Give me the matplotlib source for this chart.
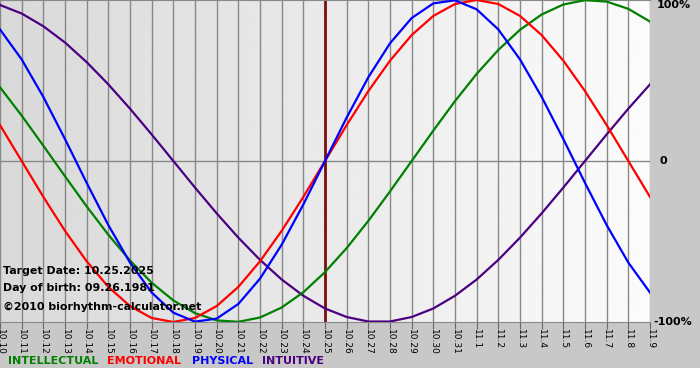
import numpy as np
import matplotlib
matplotlib.use('Agg')
import matplotlib.pyplot as plt
from matplotlib.patches import Rectangle

# Day labels 10.10 .. 11.9
dates = ['10.%d' % d for d in range(10, 32)] + ['11.%d' % d for d in range(1, 10)]

# Values (fraction of 100%)
intellectual = [0.458, 0.282, 0.095, -0.095, -0.282, -0.458, -0.618, -0.756, -0.866, -0.945,
                -0.990, -0.999, -0.972, -0.910, -0.815, -0.690, -0.541, -0.372, -0.189, 0.0,
                0.189, 0.372, 0.541, 0.690, 0.815, 0.910, 0.972, 0.999, 0.990, 0.945, 0.866]
emotional = [0.223, 0.0, -0.223, -0.434, -0.623, -0.782, -0.901, -0.975, -1.0, -0.975,
             -0.901, -0.782, -0.623, -0.434, -0.223, 0.0, 0.223, 0.434, 0.623, 0.782,
             0.901, 0.975, 1.0, 0.975, 0.901, 0.782, 0.623, 0.434, 0.223, 0.0, -0.223]
physical = [0.817, 0.631, 0.398, 0.136, -0.136, -0.398, -0.631, -0.817, -0.942, -0.998,
            -0.979, -0.888, -0.731, -0.520, -0.270, 0.0, 0.270, 0.520, 0.731, 0.888,
            0.979, 0.998, 0.942, 0.817, 0.631, 0.398, 0.136, -0.136, -0.398, -0.631, -0.817]
intuitive = [0.969, 0.916, 0.837, 0.736, 0.614, 0.476, 0.325, 0.165, 0.0, -0.165,
             -0.325, -0.476, -0.614, -0.736, -0.837, -0.916, -0.969, -0.997, -0.997, -0.969,
             -0.916, -0.837, -0.736, -0.614, -0.476, -0.325, -0.165, 0.0, 0.165, 0.325, 0.476]

target_idx = dates.index('10.25')
x = np.arange(len(dates))

fig = plt.figure(figsize=(7, 3.8), dpi=100)
fig.patch.set_facecolor('#c8c8c8')
fig.add_artist(Rectangle((0, 0), 1, 12 / 380, transform=fig.transFigure,
                         facecolor='white', edgecolor='none', zorder=0))

ax = fig.add_axes([0, 58 / 380, 650 / 700, 322 / 380])
ax.set_xlim(0, len(dates) - 1)
ax.set_ylim(-1.0, 1.0)

# background gradient, darker on the left
grad = np.linspace(0.85, 0.985, 256).reshape(1, -1)
ax.imshow(grad, extent=[0, len(dates) - 1, -1.0, 1.0], aspect='auto',
          cmap='gray', vmin=0, vmax=1, zorder=0)

for xi in x:
    ax.axvline(xi, color='#888888', lw=1, zorder=1)
ax.axhline(0, color='#888888', lw=1, zorder=1)
ax.axvline(target_idx, color='#7a1010', lw=2, zorder=2)

ax.plot(x, intuitive, color='#4b0082', lw=1.6, zorder=3)
ax.plot(x, intellectual, color='#008000', lw=1.6, zorder=3)
ax.plot(x, emotional, color='#ff0000', lw=1.6, zorder=3)
ax.plot(x, physical, color='#0000ff', lw=1.6, zorder=3)

for s in ['left', 'right']:
    ax.spines[s].set_visible(False)
ax.spines['top'].set_color('#888888')
ax.spines['bottom'].set_color('#888888')
ax.set_yticks([])
ax.set_xticks(x)
ax.set_xticklabels(dates, rotation=270, fontsize=6.5)
ax.tick_params(axis='x', length=5, color='#666666', pad=0)

# right side labels
ax.text(1.01, 1.0, '100%', transform=ax.transAxes, ha='left', va='top',
        fontsize=8, fontweight='bold', clip_on=False)
ax.text(1.015, 0.5, '0', transform=ax.transAxes, ha='left', va='center',
        fontsize=8, fontweight='bold', clip_on=False)
ax.text(1.005, 0.0, '-100%', transform=ax.transAxes, ha='left', va='center',
        fontsize=8, fontweight='bold', clip_on=False)

# info text
ax.text(3 / 650, 1 - 271 / 322, 'Target Date: 10.25.2025', transform=ax.transAxes,
        fontsize=7.9, fontweight='bold', va='center', zorder=4)
ax.text(3 / 650, 1 - 288 / 322, 'Day of birth: 09.26.1981', transform=ax.transAxes,
        fontsize=7.9, fontweight='bold', va='center', zorder=4)
ax.text(3 / 650, 1 - 307 / 322, '\u00a92010 biorhythm-calculator.net', transform=ax.transAxes,
        fontsize=7.9, fontweight='bold', va='center', zorder=4)

# legend line
legend = [('INTELLECTUAL', '#008000'), ('EMOTIONAL', '#ff0000'),
          ('PHYSICAL', '#0000ff'), ('INTUITIVE', '#4b0082')]
xpos = [8, 107, 192, 262]
for (name, col), xp in zip(legend, xpos):
    fig.text(xp / 700, 1 - 361 / 380, name, color=col, fontsize=8,
             fontweight='bold', va='center', ha='left')

fig.savefig('out.png', dpi=100, facecolor=fig.get_facecolor())
